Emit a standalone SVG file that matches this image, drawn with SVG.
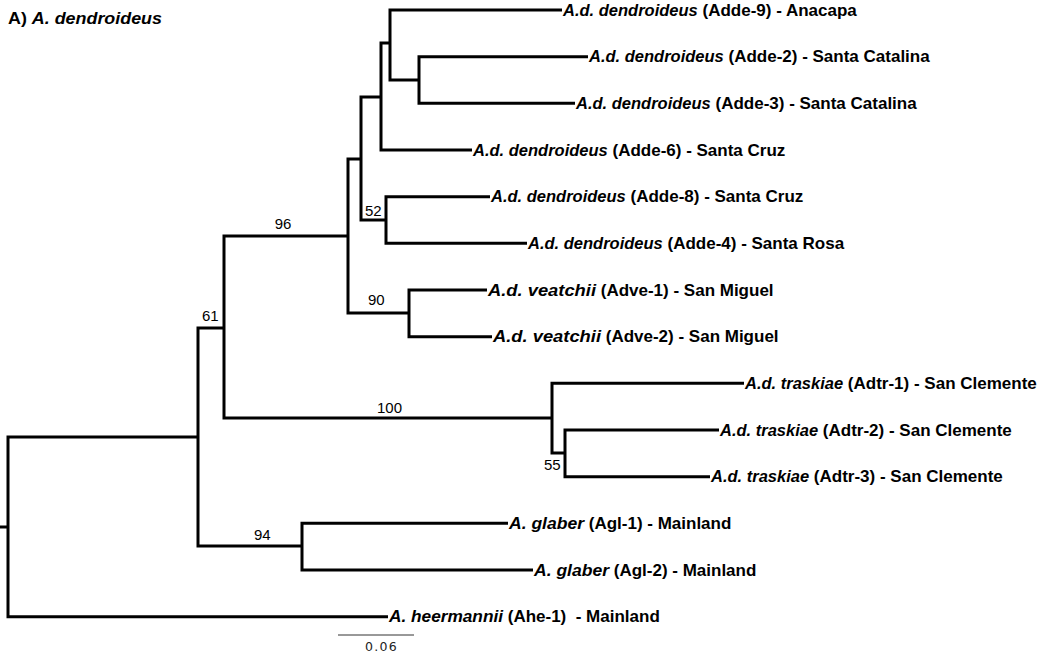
<svg xmlns="http://www.w3.org/2000/svg" width="1063" height="657" viewBox="0 0 1063 657">
<style>
.br{fill:none;stroke:#000;stroke-width:3;stroke-linejoin:miter;stroke-linecap:butt}
.tip{font-family:"Liberation Sans",Arial,sans-serif;font-weight:bold;font-size:17px;fill:#000}
.tip .sp{font-style:italic;font-size:16.5px}
.sup{font-family:"Liberation Sans",Arial,sans-serif;font-size:15px;fill:#000}
.title{font-family:"Liberation Sans",Arial,sans-serif;font-weight:bold;font-size:17px;fill:#000}
.title .sp{font-style:italic}
</style>
<rect width="1063" height="657" fill="#fff"/>
<text class="title" x="8" y="24" textLength="154" lengthAdjust="spacingAndGlyphs">A) <tspan class="sp">A. dendroideus</tspan></text>
<g id="connectors">
<path class="br" d="M0,527 H8"/>
<path class="br" d="M198,437 H8 V616.7 H388"/>
<path class="br" d="M224,328 H198 V546 H302"/>
<path class="br" d="M508,523.3 H302 V570 H533"/>
<path class="br" d="M348,236 H224 V418 H552"/>
<path class="br" d="M744,383.3 H552 V453 H565"/>
<path class="br" d="M719,430 H565 V476.7 H710"/>
<path class="br" d="M361,159 H348 V313 H409"/>
<path class="br" d="M487,290 H409 V336.7 H492"/>
<path class="br" d="M381,97 H361 V220 H386"/>
<path class="br" d="M490,196.7 H386 V243.3 H527"/>
<path class="br" d="M390,43 H381 V150 H472"/>
<path class="br" d="M562,10 H390 V80 H419"/>
<path class="br" d="M588,56.7 H419 V103.3 H575"/>
</g>
<g id="support">
<text class="sup" x="283" y="229" text-anchor="middle">96</text>
<text class="sup" x="202" y="321">61</text>
<text class="sup" x="365" y="216">52</text>
<text class="sup" x="368" y="305">90</text>
<text class="sup" x="377" y="413">100</text>
<text class="sup" x="544" y="470">55</text>
<text class="sup" x="254" y="540">94</text>
</g>
<g id="tip-adde9"><text class="tip" x="563" y="15.8"><tspan class="sp">A.d. dendroideus</tspan> (Adde-9) - Anacapa</text></g>
<g id="tip-adde2"><text class="tip" x="589" y="62.2"><tspan class="sp">A.d. dendroideus</tspan> (Adde-2) - Santa Catalina</text></g>
<g id="tip-adde3"><text class="tip" x="576" y="108.8"><tspan class="sp">A.d. dendroideus</tspan> (Adde-3) - Santa Catalina</text></g>
<g id="tip-adde6"><text class="tip" x="473" y="155.5"><tspan class="sp">A.d. dendroideus</tspan> (Adde-6) - Santa Cruz</text></g>
<g id="tip-adde8"><text class="tip" x="491" y="202.2"><tspan class="sp">A.d. dendroideus</tspan> (Adde-8) - Santa Cruz</text></g>
<g id="tip-adde4"><text class="tip" x="528" y="248.8"><tspan class="sp">A.d. dendroideus</tspan> (Adde-4) - Santa Rosa</text></g>
<g id="tip-adve1"><text class="tip" x="488" y="295.5"><tspan class="sp" textLength="108" lengthAdjust="spacingAndGlyphs">A.d. veatchii</tspan> (Adve-1) - San Miguel</text></g>
<g id="tip-adve2"><text class="tip" x="493" y="342.2"><tspan class="sp" textLength="108" lengthAdjust="spacingAndGlyphs">A.d. veatchii</tspan> (Adve-2) - San Miguel</text></g>
<g id="tip-adtr1"><text class="tip" x="745" y="388.8"><tspan class="sp">A.d. traskiae</tspan> (Adtr-1) - San Clemente</text></g>
<g id="tip-adtr2"><text class="tip" x="720" y="435.5"><tspan class="sp">A.d. traskiae</tspan> (Adtr-2) - San Clemente</text></g>
<g id="tip-adtr3"><text class="tip" x="711" y="482.2"><tspan class="sp">A.d. traskiae</tspan> (Adtr-3) - San Clemente</text></g>
<g id="tip-agl1"><text class="tip" x="509" y="528.8"><tspan class="sp" textLength="75" lengthAdjust="spacingAndGlyphs">A. glaber</tspan> (Agl-1) - Mainland</text></g>
<g id="tip-agl2"><text class="tip" x="534" y="575.5"><tspan class="sp" textLength="75" lengthAdjust="spacingAndGlyphs">A. glaber</tspan> (Agl-2) - Mainland</text></g>
<g id="tip-ahe1"><text class="tip" x="389" y="622.2" xml:space="preserve"><tspan class="sp" textLength="114" lengthAdjust="spacingAndGlyphs">A. heermannii</tspan> (Ahe-1)  - Mainland</text></g>
<g id="scale">
<path d="M338,635 H414" fill="none" stroke="#333" stroke-width="1"/>
<text x="365" y="651" font-family="'DejaVu Sans',sans-serif" font-size="12.5" letter-spacing="1.3" fill="#222">0.06</text>
</g>
</svg>
